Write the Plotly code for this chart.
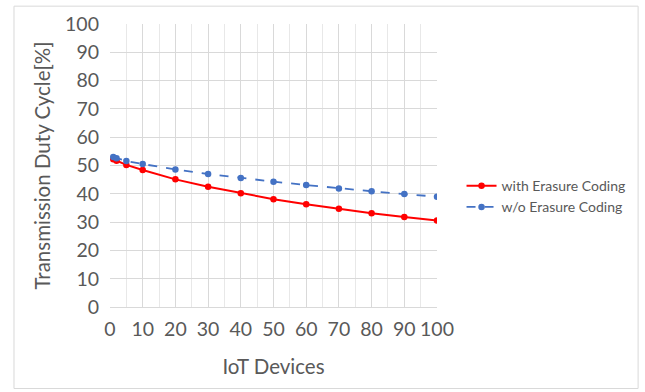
import plotly.graph_objects as go

devices = [1, 2, 5, 10, 20, 30, 40, 50, 60, 70, 80, 90, 100]
with_ec = [52.2, 51.7, 50.2, 48.4, 45.1, 42.5, 40.2, 38.1, 36.3, 34.7, 33.1, 31.8, 30.6]
without_ec = [53.0, 52.6, 51.6, 50.5, 48.6, 47.0, 45.6, 44.3, 43.1, 41.9, 40.9, 39.9, 39.0]
x_ticks = list(range(0, 101, 10))
y_ticks = list(range(0, 101, 10))

grey = "#595959"
grid = "#d9d9d9"

fig = go.Figure()
fig.add_trace(go.Scatter(
    x=devices, y=with_ec, name="with Erasure Coding", mode="lines+markers",
    line=dict(color="#ff0000", width=2), marker=dict(color="#ff0000", size=6.5)))
fig.add_trace(go.Scatter(
    x=devices, y=without_ec, name="w/o Erasure Coding", mode="lines+markers",
    line=dict(color="#4472c4", width=1.8, dash="dash"), marker=dict(color="#4472c4", size=6.5)))

fig.update_layout(
    width=645, height=392,
    margin=dict(l=110, r=208, t=22, b=85),
    paper_bgcolor="white", plot_bgcolor="white",
    font=dict(family="Lato, Carlito, sans-serif", color=grey, size=19.5),
    showlegend=True,
    legend=dict(x=1.075, y=0.39, xanchor="left", yanchor="middle",
                font=dict(size=14, color=grey), tracegroupgap=0,
                itemwidth=30, bgcolor="rgba(0,0,0,0)"),
    xaxis=dict(range=[0, 100], tickvals=x_ticks, ticktext=[str(v) for v in x_ticks],
               showgrid=True, gridcolor=grid, gridwidth=1,
               minor=dict(dtick=5, tick0=0, showgrid=True, gridcolor="#e8e8e8", gridwidth=1),
               showline=True, linecolor=grid, linewidth=1, zeroline=False,
               ticks="", ticklen=0, ticklabelstandoff=5,
               title=dict(text="IoT Devices", font=dict(size=20.5, color=grey), standoff=20)),
    yaxis=dict(range=[0, 100], tickvals=y_ticks, ticktext=[str(v) for v in y_ticks],
               showgrid=True, gridcolor=grid, gridwidth=1,
               showline=False, zeroline=False, ticks="", ticklabelstandoff=10,
               title=dict(text="Transmission Duty Cycle[%]", font=dict(size=20.5, color=grey), standoff=8)),
)

fig.add_shape(type="rect", xref="paper", yref="paper",
              x0=-0.2936, x1=1.615, y0=-0.288, y1=1.063,
              line=dict(color=grid, width=1), fillcolor="rgba(0,0,0,0)", layer="below")

fig.write_html("out.html")
